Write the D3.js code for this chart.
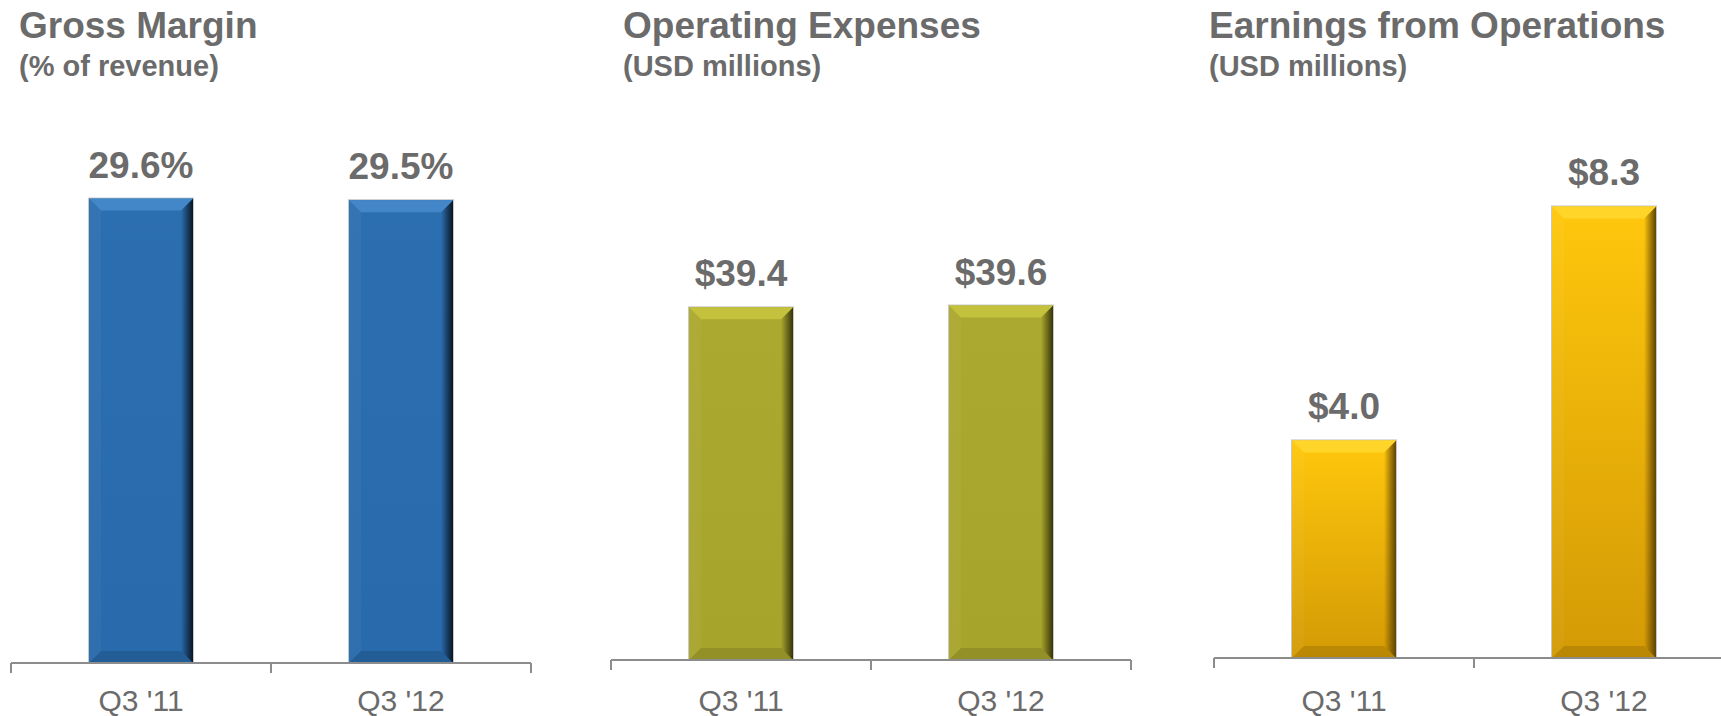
<!DOCTYPE html>
<html>
<head>
<meta charset="utf-8">
<script src="https://cdn.jsdelivr.net/npm/d3@7/dist/d3.min.js"></script>
<style>
  html, body { margin: 0; padding: 0; background: #fff; }
  svg text { font-family: "Liberation Sans", Arial, sans-serif; fill: #6b6b6b; }
</style>
</head>
<body>
<svg id="chart" width="1721" height="716"></svg>
<script>
// data
var categories = ["Q3 '11", "Q3 '12"];
var grossMargin = [29.6, 29.5];
var opExpenses = [39.4, 39.6];
var earnings = [4.0, 8.3];
var titles = ['Gross Margin', 'Operating Expenses', 'Earnings from Operations'];
var subtitles = ['(% of revenue)', '(USD millions)', '(USD millions)'];

var fmt1 = d3.format('.1f');
var pct = function(v) { return fmt1(v) + '%'; };
var usd = function(v) { return '$' + fmt1(v); };

// one entry per panel: where it sits and how it looks
var panels = [
  { values: grossMargin, title: titles[0], sub: subtitles[0], label: pct,
    x0: 11, titleX: 19, axisY: 663, yMax: 30, yTop: 192.3, clipRight: false,
    main: ['#2c6fb0', '#286aab'], top: '#4387c9', dark: '#0b1522', id: 'blue' },
  { values: opExpenses, title: titles[1], sub: subtitles[1], label: usd,
    x0: 611, titleX: 623, axisY: 660, yMax: 45, yTop: 257.2, clipRight: false,
    main: ['#aba92f', '#a7a42c'], top: '#c4c13c', dark: '#36340a', id: 'olive' },
  { values: earnings, title: titles[2], sub: subtitles[2], label: usd,
    x0: 1214, titleX: 1209, axisY: 658, yMax: 9, yTop: 168.4, clipRight: true,
    main: ['#ffc70c', '#d39a05'], top: '#ffd52a', dark: '#5e4304', id: 'gold' }
];

var svg = d3.select('#chart');
var defs = svg.append('defs');

panels.forEach(function(p) {
  var g1 = defs.append('linearGradient').attr('id', 'main-' + p.id)
    .attr('x1', 0).attr('y1', 0).attr('x2', 0).attr('y2', 1);
  g1.append('stop').attr('offset', '0%').attr('stop-color', p.main[0]);
  g1.append('stop').attr('offset', '100%').attr('stop-color', p.main[1]);

  var g2 = defs.append('linearGradient').attr('id', 'right-' + p.id)
    .attr('x1', 0).attr('y1', 0).attr('x2', 1).attr('y2', 0);
  g2.append('stop').attr('offset', '0%').attr('stop-color', p.dark).attr('stop-opacity', 0);
  g2.append('stop').attr('offset', '100%').attr('stop-color', p.dark).attr('stop-opacity', 1);
});

var drawPanel = function(p) {
  var g = svg.append('g').attr('class', 'panel');

  var x = d3.scaleBand()
    .domain(categories)
    .range([p.x0, p.x0 + 520])
    .paddingInner(0.6)
    .paddingOuter(0.3);
  var y = d3.scaleLinear().domain([0, p.yMax]).range([p.axisY, p.yTop]);

  // titles
  g.append('text')
    .attr('x', p.titleX).attr('y', 38)
    .style('font-size', '37px').style('font-weight', 'bold')
    .text(p.title);
  g.append('text')
    .attr('x', p.titleX).attr('y', 76)
    .style('font-size', '29px').style('font-weight', 'bold')
    .text(p.sub);

  var rows = categories.map(function(c, i) { return { cat: c, v: p.values[i] }; });

  var bars = g.selectAll('.bar')
    .data(rows)
    .enter().append('g')
    .attr('class', 'bar');

  bars.each(function(d) {
    var s = d3.select(this);
    var bx = x(d.cat), bw = x.bandwidth();
    var by = y(d.v), bh = y(0) - y(d.v);
    var b = 12;
    // soft shadow round the bar
    s.append('rect')
      .attr('x', bx - 1).attr('y', by - 1).attr('width', bw + 2).attr('height', bh + 2)
      .attr('fill', '#9a9a9a').attr('opacity', 0.55);
    s.append('rect')
      .attr('x', bx).attr('y', by).attr('width', bw).attr('height', bh)
      .attr('fill', 'url(#main-' + p.id + ')');
    // bevel faces
    s.append('polygon')
      .attr('points', [[bx, by], [bx + b, by + b], [bx + b, by + bh - b], [bx, by + bh]].join(' '))
      .attr('fill', '#ffffff').attr('opacity', 0.04);
    s.append('polygon')
      .attr('points', [[bx + bw, by], [bx + bw, by + bh], [bx + bw - b, by + bh - b], [bx + bw - b, by + b]].join(' '))
      .attr('fill', 'url(#right-' + p.id + ')');
    s.append('polygon')
      .attr('points', [[bx, by + bh], [bx + bw, by + bh], [bx + bw - b, by + bh - b], [bx + b, by + bh - b]].join(' '))
      .attr('fill', '#000000').attr('opacity', 0.12);
    s.append('polygon')
      .attr('points', [[bx, by], [bx + bw, by], [bx + bw - b, by + b], [bx + b, by + b]].join(' '))
      .attr('fill', p.top);
  });

  // value labels
  g.selectAll('.val')
    .data(rows)
    .enter().append('text')
    .attr('class', 'val')
    .attr('x', function(d) { return x(d.cat) + x.bandwidth() / 2; })
    .attr('y', function(d) { return y(d.v) - 21; })
    .attr('text-anchor', 'middle')
    .style('font-size', '37px').style('font-weight', 'bold')
    .text(function(d) { return p.label(d.v); });

  // category axis: line with ticks at band boundaries
  var ax = g.append('g').attr('class', 'axis');
  var xEnd = p.clipRight ? 1721 : p.x0 + 520;
  ax.append('line')
    .attr('x1', p.x0).attr('x2', xEnd)
    .attr('y1', p.axisY).attr('y2', p.axisY)
    .attr('stroke', '#8c8c8c').attr('stroke-width', 2);
  var bounds = d3.range(categories.length + 1).map(function(i) { return p.x0 + i * x.step(); });
  ax.selectAll('.tk')
    .data(bounds.filter(function(b) { return b < 1721; }))
    .enter().append('line')
    .attr('class', 'tk')
    .attr('x1', function(d) { return d; }).attr('x2', function(d) { return d; })
    .attr('y1', p.axisY).attr('y2', p.axisY + 10)
    .attr('stroke', '#8c8c8c').attr('stroke-width', 2);
  ax.selectAll('.cat')
    .data(categories)
    .enter().append('text')
    .attr('class', 'cat')
    .attr('x', function(d) { return x(d) + x.bandwidth() / 2; })
    .attr('y', 711)
    .attr('text-anchor', 'middle')
    .style('font-size', '30px')
    .text(function(d) { return d; });
};

panels.forEach(drawPanel);
</script>
</body>
</html>
